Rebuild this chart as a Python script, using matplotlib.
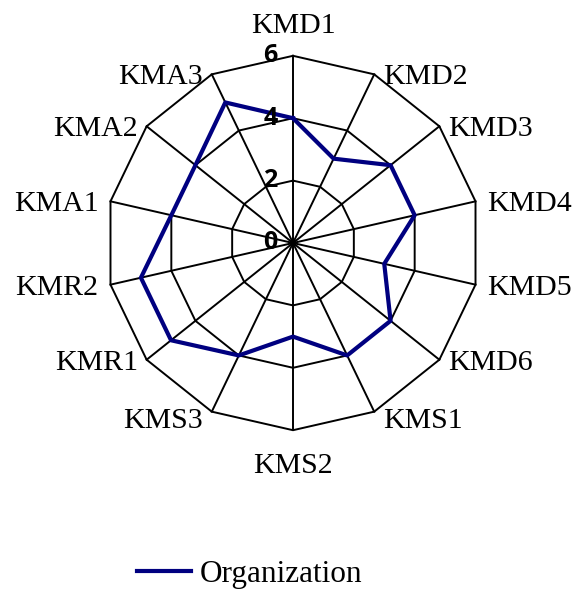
import numpy as np
import matplotlib.pyplot as plt

categories = ['KMD1', 'KMD2', 'KMD3', 'KMD4', 'KMD5', 'KMD6', 'KMS1',
              'KMS2', 'KMS3', 'KMR1', 'KMR2', 'KMA1', 'KMA2', 'KMA3']
organization = [4, 3, 4, 4, 3, 4, 4, 3, 4, 5, 5, 4, 4, 5]
rings = [0, 2, 4, 6]
ring_labels = ['0', '2', '4', '6']

W, H = 576, 592
cx, cy = 293, 243      # centre of the radar in pixels
unit = 31.2            # pixels per value unit

fig = plt.figure(figsize=(W / 100, H / 100), dpi=100)
ax = fig.add_axes([0, 0, 1, 1])
ax.set_xlim(-cx / unit, (W - cx) / unit)
ax.set_ylim(-(H - cy) / unit, cy / unit)
ax.axis('off')

n = len(categories)
ang = np.arange(n) * 2 * np.pi / n
sx, sy = np.sin(ang), np.cos(ang)

# polygon grid and spokes
for r in rings[1:]:
    ax.plot(np.append(sx, sx[0]) * r, np.append(sy, sy[0]) * r,
            color='black', lw=1.4, zorder=1)
for i in range(n):
    ax.plot([0, sx[i] * rings[-1]], [0, sy[i] * rings[-1]],
            color='black', lw=1.4, zorder=1)

# series
v = np.array(organization + organization[:1], dtype=float)
ax.plot(np.append(sx, sx[0]) * v, np.append(sy, sy[0]) * v,
        color='#000080', lw=3.0, zorder=3, label='Organization')

# ring value labels
for r, t in zip(rings, ring_labels):
    ax.text(-0.5, r, t, ha='right', va='center', fontsize=18,
            fontweight='bold', family='Open Sans', zorder=4)

# category labels (offsets in pixels, baseline anchored)
R = rings[-1]
for i, lab in enumerate(categories):
    x, y = sx[i] * R, sy[i] * R
    if abs(sx[i]) < 1e-6:
        ha = 'center'
        dx = 0
        dy = 23 if sy[i] > 0 else -43
    else:
        ha = 'left' if sx[i] > 0 else 'right'
        dx = 9 if abs(sx[i]) < 0.95 else 12
        dx = dx if sx[i] > 0 else -dx
        dy = -16 if sy[i] < -0.85 else -10
    ax.text(x + dx / unit, y + dy / unit, lab, ha=ha, va='baseline',
            fontsize=21.5, family='Liberation Serif')

fig.legend(loc='center', bbox_to_anchor=(0.434, 0.030), frameon=False,
           prop={'family': 'Liberation Serif', 'size': 22.5},
           handlelength=1.7, handletextpad=0.3)

fig.savefig('out.png', dpi=100)
